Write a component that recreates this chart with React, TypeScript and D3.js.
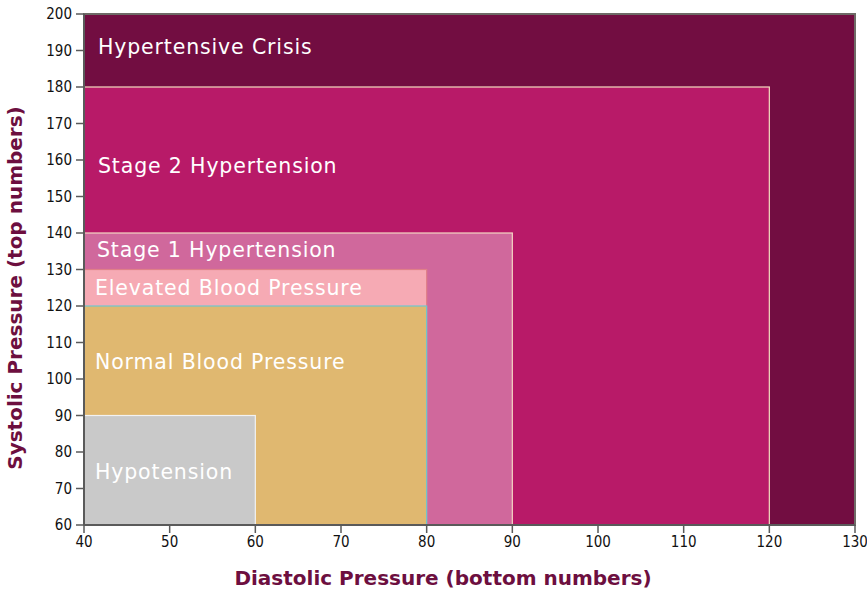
import React from 'react';
import * as d3 from 'd3';

// zones: [diastolic max, systolic max]
const categories = [
  'Hypertensive Crisis',
  'Stage 2 Hypertension',
  'Stage 1 Hypertension',
  'Elevated Blood Pressure',
  'Normal Blood Pressure',
  'Hypotension',
];
const diastolicMax = [130, 120, 90, 80, 80, 60];
const systolicMax = [200, 180, 140, 130, 120, 90];
const labelAt = [191, 158.5, 135.3, 125, 104.7, 74.5];
const fills = ['#720d41', '#b81a68', '#d0689c', '#f6aab4', '#e0b870', '#c9c9c9'];
const strokes = ['#6e6a66', '#f3dcc0', '#f4d6c4', '#e07f88', '#6cc7cf', '#f2f2f2'];
const xTicks = [40, 50, 60, 70, 80, 90, 100, 110, 120, 130];
const yTicks = [60, 70, 80, 90, 100, 110, 120, 130, 140, 150, 160, 170, 180, 190, 200];

const W = 867;
const H = 600;
const margin = { left: 84, right: 12, top: 14, bottom: 75 };

export default function App() {
  const x = d3.scaleLinear().domain([40, 130]).range([margin.left, W - margin.right]);
  const y = d3.scaleLinear().domain([60, 200]).range([H - margin.bottom, margin.top]);
  const labelFont = "'DejaVu Sans', sans-serif";
  const tickFont = "'Liberation Sans Narrow', 'DejaVu Sans Condensed', sans-serif";

  return (
    <svg width={W} height={H} style={{ position: 'absolute', left: 0, top: 0 }}>
      <rect width={W} height={H} fill="#fff" />
      {categories.map((c, i) => (
        <rect
          key={c}
          x={x(40)}
          y={y(systolicMax[i])}
          width={x(diastolicMax[i]) - x(40)}
          height={y(60) - y(systolicMax[i])}
          fill={fills[i]}
          stroke={strokes[i]}
          strokeWidth={i === 0 ? 2 : 1.2}
        />
      ))}
      {categories.map((c, i) => (
        <text
          key={'l' + c}
          x={x(40) + (i < 2 ? 14 : i === 2 ? 13 : 11)}
          y={y(labelAt[i])}
          dy="0.35em"
          fill="#fff"
          fontFamily={labelFont}
          fontSize={20.5}
          letterSpacing={0.85}
        >
          {c}
        </text>
      ))}
      {/* axes */}
      <line x1={x(40)} x2={x(130)} y1={y(60)} y2={y(60)} stroke="#5a5a5a" strokeWidth={2} />
      <line x1={x(40)} x2={x(40)} y1={y(60)} y2={y(200)} stroke="#5a5a5a" strokeWidth={2} />
      {xTicks.map((t) => (
        <g key={'x' + t} transform={`translate(${x(t)},${y(60)})`}>
          <line y2={8} stroke="#5a5a5a" strokeWidth={1.5} />
          <text y={22} textAnchor="middle" fontFamily={tickFont} fontSize={15} fill="#111">
            {t}
          </text>
        </g>
      ))}
      {yTicks.map((t) => (
        <g key={'y' + t} transform={`translate(${x(40)},${y(t)})`}>
          <line x2={-8} stroke="#5a5a5a" strokeWidth={1.5} />
          <text x={-12} dy="0.35em" textAnchor="end" fontFamily={tickFont} fontSize={15} fill="#111">
            {t}
          </text>
        </g>
      ))}
      <text
        x={443}
        y={585}
        textAnchor="middle"
        fontFamily={labelFont}
        fontWeight={600}
        fontSize={20}
        fill="#6d0f3f"
      >
        Diastolic Pressure (bottom numbers)
      </text>
      <text
        transform={`translate(22,288) rotate(-90)`}
        textAnchor="middle"
        fontFamily={labelFont}
        fontWeight={600}
        fontSize={20}
        fill="#6d0f3f"
      >
        Systolic Pressure (top numbers)
      </text>
    </svg>
  );
}
